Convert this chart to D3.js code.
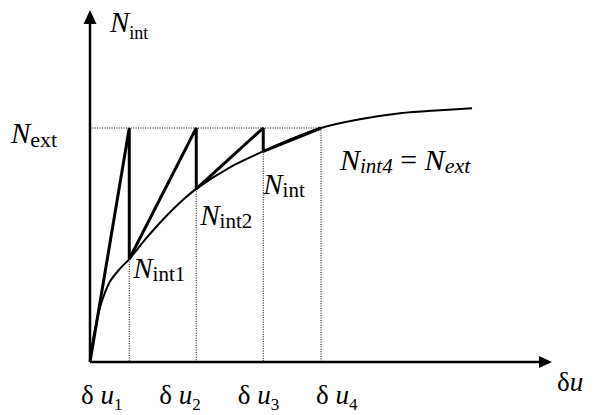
<!DOCTYPE html>
<html>
<head>
<meta charset="utf-8">
<script src="https://cdn.jsdelivr.net/npm/d3@7"></script>
<style>
  body { margin: 0; background: #fff; }
  svg { display: block; }
</style>
</head>
<body>
<script>
// Displacement increments δu_i and the internal force reached after each one
const stepU = [0.85, 2.3, 3.75, 5.0];
const stepN = [0.44, 0.74, 0.90, 1.0];
const nExt = 1.0;

// Internal force – displacement response of the member
const curveU = [0, 0.05, 0.13, 0.24, 0.43, 0.65, 0.85, 1.21, 1.58, 1.95, 2.3, 3.03, 3.75, 4.37, 5.0, 5.84, 6.71, 7.58, 8.27];
const curveN = [0, 0.077, 0.159, 0.249, 0.343, 0.399, 0.44, 0.527, 0.609, 0.682, 0.74, 0.832, 0.90, 0.954, 1.0, 1.037, 1.063, 1.076, 1.084];

// Text
const stepTickLabels = ["1", "2", "3", "4"];
const pointLabelSubs = ["int1", "int2", "int"];

const W = 597, H = 415;
const FONT = "'Liberation Serif', 'Times New Roman', serif";
const svg = d3.select("body").append("svg").attr("width", W).attr("height", H)
  .attr("font-family", FONT);
svg.append("rect").attr("width", W).attr("height", H).attr("fill", "#fff");

const x = d3.scaleLinear().domain([0, 10]).range([90, 552]);
const y = d3.scaleLinear().domain([0, 1.5]).range([362, 11]);

const line = d3.line().x(d => x(d[0])).y(d => y(d[1]));

// Dotted guides: N_ext level and the δu_i verticals
const guides = svg.append("g").attr("stroke", "#000").attr("stroke-width", 1)
  .attr("stroke-dasharray", "1,1.4").attr("fill", "none");
guides.append("path").attr("d", line([[0, nExt], [stepU[3], nExt]]));
stepU.forEach((u, i) => {
  const top = i === stepU.length - 1 ? nExt : stepN[i];
  guides.append("path").attr("d", line([[u, top], [u, 0]]));
});

// Response curve
const curvePts = curveU.map((u, i) => [u, curveN[i]]);
svg.append("path")
  .attr("d", d3.line().x(d => x(d[0])).y(d => y(d[1])).curve(d3.curveCatmullRom.alpha(0.5))(curvePts))
  .attr("fill", "none").attr("stroke", "#000").attr("stroke-width", 2);

// Iteration path: load to N_ext, drop back to the curve, repeat
const saw = [[0, 0]];
stepU.forEach((u, i) => {
  if (i < stepU.length - 1) { saw.push([u, nExt]); saw.push([u, stepN[i]]); }
  else saw.push([u, stepN[i]]);
});
svg.append("path").attr("d", line(saw))
  .attr("fill", "none").attr("stroke", "#000").attr("stroke-width", 3)
  .attr("stroke-linejoin", "bevel");

// Axes with arrowheads
const x0 = x(0), y0 = y(0), yTop = 10, xEnd = 552;
svg.append("path").attr("d", `M${x0},${y0}V${yTop + 12}`).attr("stroke", "#000").attr("stroke-width", 2.5);
svg.append("path").attr("d", `M${x0},${y0}H${xEnd - 12}`).attr("stroke", "#000").attr("stroke-width", 2.5);
svg.append("path").attr("d", `M${x0},${yTop}L${x0 - 6.5},${yTop + 14}L${x0 + 6.5},${yTop + 14}Z`).attr("fill", "#000");
svg.append("path").attr("d", `M${xEnd},${y0}L${xEnd - 13},${y0 - 6}L${xEnd - 13},${y0 + 6}Z`).attr("fill", "#000");

// Helper for "N" with subscript
function nLabel(px, py, sub, subSize, subDy) {
  const t = svg.append("text").attr("x", px).attr("y", py).attr("fill", "#000");
  t.append("tspan").attr("font-style", "italic").attr("font-size", 29).text("N");
  t.append("tspan").attr("font-size", subSize).attr("dy", subDy).text(sub);
  return t;
}

// Axis titles
nLabel(110, 32, "int", 18, 7);
nLabel(11, 143, "ext", 22, 4);

// Labels at the intermediate equilibrium points
const labelOffsets = [[4, 19], [4, 36], [0, 43]];
pointLabelSubs.forEach((s, i) => {
  nLabel(x(stepU[i]) + labelOffsets[i][0], y(stepN[i]) + labelOffsets[i][1], s, 21, 3);
});

// Convergence statement
{
  const t = svg.append("text").attr("x", 340).attr("y", 170).attr("font-size", 30);
  t.append("tspan").attr("font-style", "italic").text("N");
  t.append("tspan").attr("font-style", "italic").attr("font-size", 21).attr("dy", 3).text("int4");
  t.append("tspan").attr("dy", -3).text(" = ");
  t.append("tspan").attr("font-style", "italic").text("N");
  t.append("tspan").attr("font-style", "italic").attr("font-size", 22).attr("dy", 3).text("ext");
}

// δu_i labels along the displacement axis, evenly spaced
const slot = d3.scalePoint().domain(stepTickLabels).range([81, 316]);
stepTickLabels.forEach(k => {
  const t = svg.append("text").attr("x", slot(k)).attr("y", 404).attr("font-size", 27);
  t.append("tspan").text("δ ");
  t.append("tspan").attr("font-style", "italic").text("u");
  t.append("tspan").attr("font-size", 17).attr("dy", 6).text(k);
});

// Displacement axis title
{
  const t = svg.append("text").attr("x", 557).attr("y", 391).attr("font-size", 27);
  t.append("tspan").text("δ");
  t.append("tspan").attr("font-style", "italic").text("u");
}
</script>
</body>
</html>
